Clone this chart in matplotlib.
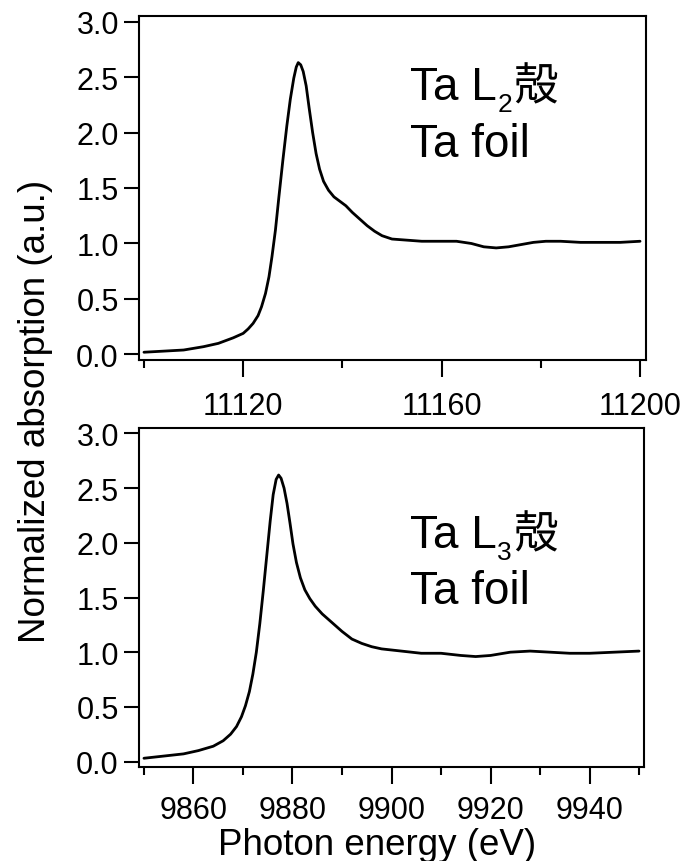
import matplotlib
matplotlib.use("Agg")
import matplotlib.pyplot as plt
from matplotlib.ticker import MultipleLocator, FixedLocator, FormatStrFormatter

# ---- data ----
l2_energy = [11100, 11104, 11108, 11112, 11115, 11118, 11120, 11121, 11122, 11123, 11123.7,
             11124.5, 11125.2, 11125.8, 11126.5, 11127.2, 11128, 11128.8, 11129.5, 11130.2,
             11130.7, 11131.1, 11131.6, 11132.1, 11132.7, 11133.3, 11134.0, 11134.7, 11135.4,
             11136.2, 11137.2, 11138.3, 11139.5, 11140.7, 11142, 11143.5, 11145, 11146.5,
             11148, 11150, 11153, 11156, 11160, 11163, 11166, 11168.5, 11171, 11173.5,
             11176, 11178.5, 11181, 11184, 11188, 11192, 11196, 11200]
l2_abs = [0.02, 0.03, 0.04, 0.07, 0.10, 0.15, 0.19, 0.23, 0.28, 0.35, 0.43,
          0.55, 0.70, 0.88, 1.12, 1.42, 1.75, 2.06, 2.30, 2.49,
          2.59, 2.63, 2.61, 2.55, 2.42, 2.22, 2.00, 1.81, 1.67,
          1.56, 1.48, 1.42, 1.38, 1.34, 1.28, 1.22, 1.16, 1.11,
          1.07, 1.04, 1.03, 1.02, 1.02, 1.02, 1.00, 0.97, 0.96, 0.97,
          0.99, 1.01, 1.02, 1.02, 1.01, 1.01, 1.01, 1.02]

l3_energy = [9850, 9854, 9858, 9861, 9864, 9866, 9867.5, 9868.7, 9869.7, 9870.5, 9871.3,
             9872, 9872.7, 9873.4, 9874.1, 9874.8, 9875.5, 9876.1, 9876.7, 9877.2, 9877.7,
             9878.3, 9878.9, 9879.5, 9880.1, 9880.8, 9881.6, 9882.5, 9883.5, 9884.6, 9886,
             9888, 9890, 9892, 9894, 9896, 9898, 9902, 9906, 9910, 9914, 9917, 9920, 9924,
             9928, 9932, 9936, 9940, 9945, 9950]
l3_abs = [0.03, 0.05, 0.07, 0.10, 0.14, 0.19, 0.25, 0.32, 0.41, 0.51, 0.64,
          0.80, 1.00, 1.26, 1.56, 1.88, 2.20, 2.44, 2.58, 2.62, 2.59,
          2.50, 2.36, 2.18, 1.99, 1.82, 1.68, 1.57, 1.49, 1.42, 1.35,
          1.27, 1.19, 1.12, 1.08, 1.05, 1.03, 1.01, 0.99, 0.99, 0.97, 0.96, 0.97, 1.00,
          1.01, 1.00, 0.99, 0.99, 1.00, 1.01]

l2_major = [11120, 11160, 11200]
l2_minor = [11100, 11140, 11180]
l3_major = [9860, 9880, 9900, 9920, 9940]
l3_minor = [9850, 9870, 9890, 9910, 9930, 9950]

y_label = "Normalized absorption (a.u.)"
x_label = "Photon energy (eV)"
edge_labels = ["2", "3"]

plt.rcParams['font.family'] = ['Liberation Sans', 'DejaVu Sans']

W, H = 687, 862
fig = plt.figure(figsize=(W / 100, H / 100), dpi=100)

def fx(px):
    return px / W

def fy(py):
    return 1 - py / H

ax1 = fig.add_axes([fx(139), fy(361), fx(646) - fx(139), fy(17) - fy(361)])
ax2 = fig.add_axes([fx(139), fy(768), fx(644) - fx(139), fy(429) - fy(768)])

for ax, xe, ya, xmaj, xmin, xlim, xpad in [
        (ax1, l2_energy, l2_abs, l2_major, l2_minor, (11099, 11201.2), 10),
        (ax2, l3_energy, l3_abs, l3_major, l3_minor, (9849, 9951), 8)]:
    ax.plot(xe, ya, color='black', lw=2.0, solid_capstyle='round', solid_joinstyle='round')
    ax.set_xlim(*xlim)
    ax.set_ylim(-0.05, 3.05)
    ax.xaxis.set_major_locator(FixedLocator(xmaj))
    ax.xaxis.set_minor_locator(FixedLocator(xmin))
    ax.yaxis.set_major_locator(MultipleLocator(0.5))
    ax.yaxis.set_major_formatter(FormatStrFormatter('%.1f'))
    ax.tick_params(axis='x', which='major', direction='out', length=12, width=1.5,
                   labelsize=22, pad=xpad)
    ax.tick_params(axis='x', which='minor', direction='out', length=6, width=1.5)
    ax.tick_params(axis='y', which='major', direction='out', length=10.5, width=1.5,
                   labelsize=22, pad=4)
    for s in ax.spines.values():
        s.set_linewidth(1.5)

fig.text(fx(35.5), fy(411), y_label, rotation=90, ha='center', va='center', fontsize=26.5)
fig.text(fx(377.5), fy(855), x_label, ha='center', va='baseline', fontsize=26.5)

# annotations: "Ta L_n殻" built from pieces, and "Ta foil"
fig.canvas.draw()
renderer = fig.canvas.get_renderer()
for sub, base1, base2 in [(edge_labels[0], 100, 157), (edge_labels[1], 548, 604)]:
    t1 = fig.text(fx(410), fy(base1), "Ta L", fontsize=33, va='baseline', ha='left')
    bb = t1.get_window_extent(renderer)
    t2 = fig.text(bb.x1 / W + fx(0.5), fy(base1 + 12), sub, fontsize=19,
                  va='baseline', ha='left')
    bb2 = t2.get_window_extent(renderer)
    fig.text(bb2.x1 / W + fx(1), fy(base1), "殻", fontsize=32,
             family=['Noto Sans CJK JP', 'DejaVu Sans'], va='baseline', ha='left')
    fig.text(fx(410), fy(base2), "Ta foil", fontsize=33, va='baseline', ha='left')

fig.savefig("out.png", dpi=100)
